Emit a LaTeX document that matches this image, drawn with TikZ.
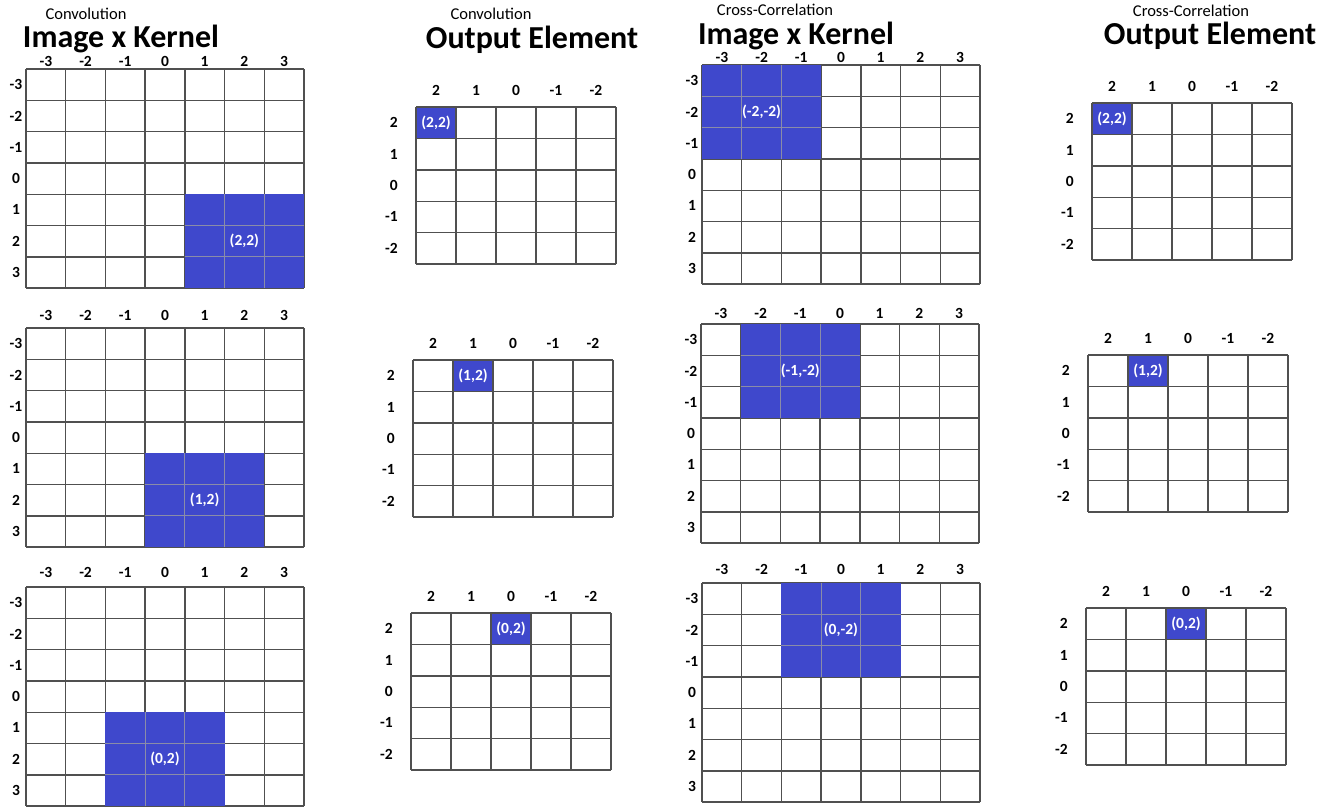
\documentclass[tikz,border=0pt]{standalone}
\usepackage{fontspec}
\setmainfont{Carlito}
\definecolor{kernelblue}{HTML}{3F48CC}
\definecolor{gridgray}{HTML}{505050}
\definecolor{softgray}{HTML}{8A8CA8}

\begin{document}
\begin{tikzpicture}[
  x=1pt, y=-1pt,
  gridline/.style={draw=gridgray, line width=1.4pt},
  kernelline/.style={draw=softgray, line width=1.2pt},
  kernel/.style={fill=kernelblue},
  axis/.style={font=\bfseries\fontsize{15.5}{15.5}\selectfont, inner sep=0pt},
  cellval/.style={font=\bfseries\fontsize{15.5}{15.5}\selectfont, text=white, inner sep=0pt},
  heading/.style={font=\bfseries\fontsize{32}{32}\selectfont, anchor=base, inner sep=0pt},
  kind/.style={font=\fontsize{16.5}{16.5}\selectfont, anchor=base, inner sep=0pt}
]
\useasboundingbox (0,0) rectangle (1341,807);

% headings
\node[kind] (convKind) at (86,19) {Convolution};
\node[heading] (convTitle) at (121,47) {Image x Kernel};
\node[kind] (convOutKind) at (491,19) {Convolution};
\node[heading] (convOutTitle) at (532,48) {Output Element};
\node[kind] (crossKind) at (775,15) {Cross-Correlation};
\node[heading] (crossTitle) at (796,44) {Image x Kernel};
\node[kind] (crossOutKind) at (1191,16) {Cross-Correlation};
\node[heading] (crossOutTitle) at (1210,44) {Output Element};

% image x kernel grids (7x7)
\foreach \gx/\gy/\bc/\br/\val/\nm/\lo in {
  26/69/5/5/{(2,2)}/convA/8, 26/328/4/5/{(1,2)}/convB/13, 26/587/3/5/{(0,2)}/convC/15,
  702/65/1/1/{(-2,-2)}/crossA/8, 701/324/2/1/{(-1,-2)}/crossB/11, 702/583/3/1/{(0,-2)}/crossC/14}
{
  \foreach \i in {0,...,7} {
    \draw[gridline] ({\gx+\i*39.7},\gy) -- +(0,219.1);
    \draw[gridline] (\gx,{\gy+\i*31.3}) -- +(277.9,0);
  }
  \fill[kernel] ({\gx+(\bc-1)*39.7},{\gy+(\br-1)*31.3}) rectangle +(119.1,93.9);
  \foreach \k in {1,2} {
    \draw[kernelline] ({\gx+(\bc-1+\k)*39.7},{\gy+(\br-1)*31.3}) -- +(0,93.9);
    \draw[kernelline] ({\gx+(\bc-1)*39.7},{\gy+(\br-1+\k)*31.3}) -- +(119.1,0);
  }
  \node[cellval] (\nm-val) at ({\gx+(\bc+0.5)*39.7},{\gy+(\br+0.5)*31.3}) {\val};
  \foreach \t [count=\i] in {-3,...,3} {
    \node[axis] (\nm-col\i) at ({\gx+(\i-0.5)*39.7},{\gy-\lo}) {\t};
    \node[axis] (\nm-row\i) at ({\gx-10},{\gy+(\i-0.5)*31.3}) {\t};
  }
}

% output element grids (5x5)
\foreach \gx/\gy/\bc/\val/\nm in {
  416/107/1/{(2,2)}/convOutA, 413/360/2/{(1,2)}/convOutB, 411/613/3/{(0,2)}/convOutC,
  1092/103/1/{(2,2)}/crossOutA, 1088/355/2/{(1,2)}/crossOutB, 1086/608/3/{(0,2)}/crossOutC}
{
  \fill[kernel] ({\gx+(\bc-1)*40},\gy) rectangle +(40,31.4);
  \node[cellval] (\nm-val) at ({\gx+(\bc-0.5)*40},{\gy+15.7}) {\val};
  \foreach \i in {0,...,5} {
    \draw[gridline] ({\gx+\i*40},\gy) -- +(0,157);
    \draw[gridline] (\gx,{\gy+\i*31.4}) -- +(200,0);
  }
  \foreach \t [count=\i] in {2,1,0,-1,-2} {
    \node[axis] (\nm-col\i) at ({\gx+(\i-0.5)*40},{\gy-17}) {\t};
    \node[axis, anchor=east] (\nm-row\i) at ({\gx-18},{\gy+(\i-0.5)*31.4}) {\t};
  }
}
\end{tikzpicture}
\end{document}
